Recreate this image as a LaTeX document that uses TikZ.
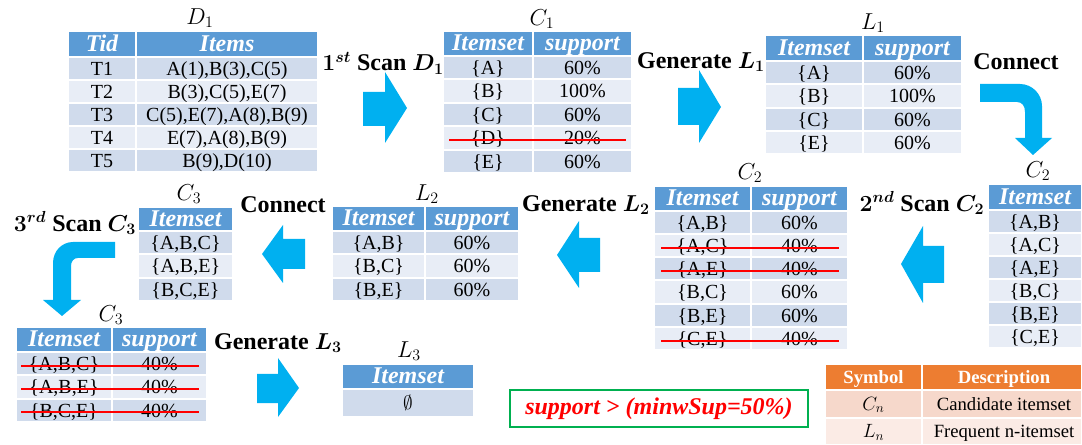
\documentclass[tikz,border=0pt]{standalone}
\usepackage{fontspec}
\setmainfont{Liberation Serif}
\usepackage{bm}

\definecolor{hdblue}{RGB}{91,155,213}
\definecolor{bandA}{RGB}{208,219,236}
\definecolor{bandB}{RGB}{232,237,246}
\definecolor{hdorange}{RGB}{237,125,49}
\definecolor{obandA}{RGB}{246,216,203}
\definecolor{obandB}{RGB}{251,235,229}
\definecolor{arrowcyan}{RGB}{0,176,240}
\definecolor{strikered}{RGB}{255,0,0}
\definecolor{boxgreen}{RGB}{0,176,80}

\tikzset{every picture/.style={line width=0.75pt}}
\tikzset{
	hd/.style={fill=hdblue, draw=white, line width=1pt},
	rowA/.style={fill=bandA, draw=white, line width=1pt},
	rowB/.style={fill=bandB, draw=white, line width=1pt},
	ohd/.style={fill=hdorange, draw=white, line width=1pt},
	orowA/.style={fill=obandA, draw=white, line width=1pt},
	orowB/.style={fill=obandB, draw=white, line width=1pt},
	hdtxt/.style={text=white, font=\fontsize{18}{18}\selectfont\bfseries\itshape, inner sep=0pt, text height=14pt, text depth=3pt},
	celltxt/.style={font=\fontsize{15}{15}\selectfont, inner sep=0pt, text height=13pt, text depth=3pt},
	ohdtxt/.style={text=white, font=\fontsize{14}{14}\selectfont\bfseries, inner sep=0pt, text height=12pt, text depth=3pt},
	otxt/.style={font=\fontsize{14}{14}\selectfont, inner sep=0pt, text height=12pt, text depth=3pt},
	steplbl/.style={font=\fontsize{18}{18}\selectfont\bfseries, inner sep=0pt},
	setlbl/.style={font=\fontsize{18}{18}\selectfont, inner sep=0pt},
	blockarrow/.style={fill=arrowcyan, draw=none},
	strike/.style={draw=strikered, line width=1.2pt},
	minbox/.style={draw=boxgreen, line width=1.8pt, fill=white, text=strikered, font=\fontsize{18}{18}\selectfont\bfseries\itshape},
}

\begin{document}
\begin{tikzpicture}[x=0.75pt,y=0.75pt,yscale=-1,xscale=1]
	\useasboundingbox (0,0) rectangle (1082,445);

	%Table D1
	\node[setlbl] (lblD1) at (200,18) {$D_1$};
	\draw[hd] (68,31) rectangle (136,57) (136,31) rectangle (318,57);
	\node[hdtxt] (d1h1) at (102,44) {Tid};
	\node[hdtxt] (d1h2) at (227,44) {Items};
	\draw[rowA] (68,57) rectangle (136,80) (136,57) rectangle (318,80);
	\node[celltxt] (d1a1) at (102,68.5) {T1};
	\node[celltxt] (d1a2) at (227,68.5) {A(1),B(3),C(5)};
	\draw[rowB] (68,80) rectangle (136,103) (136,80) rectangle (318,103);
	\node[celltxt] (d1b1) at (102,91.5) {T2};
	\node[celltxt] (d1b2) at (227,91.5) {B(3),C(5),E(7)};
	\draw[rowA] (68,103) rectangle (136,126) (136,103) rectangle (318,126);
	\node[celltxt] (d1c1) at (102,114.5) {T3};
	\node[celltxt] (d1c2) at (227,114.5) {C(5),E(7),A(8),B(9)};
	\draw[rowB] (68,126) rectangle (136,149) (136,126) rectangle (318,149);
	\node[celltxt] (d1d1) at (102,137.5) {T4};
	\node[celltxt] (d1d2) at (227,137.5) {E(7),A(8),B(9)};
	\draw[rowA] (68,149) rectangle (136,172) (136,149) rectangle (318,172);
	\node[celltxt] (d1e1) at (102,160.5) {T5};
	\node[celltxt] (d1e2) at (227,160.5) {B(9),D(10)};

	%Shape: Right Arrow
	\node[steplbl] (scan1) at (383,63) {$\bm{1^{st}}$ Scan $\bm{D_1}$};
	\draw[blockarrow] (363,92) -- (385,92) -- (385,72) -- (407,108) -- (385,143) -- (385,126) -- (363,126) -- cycle;

	%Table C1
	\node[setlbl] (lblC1) at (542,19) {$C_1$};
	\draw[hd] (443,31) rectangle (533,56) (533,31) rectangle (632,56);
	\node[hdtxt] (c1h1) at (488,43.5) {Itemset};
	\node[hdtxt] (c1h2) at (582.5,43.5) {support};
	\draw[rowA] (443,56) rectangle (533,79) (533,56) rectangle (632,79);
	\node[celltxt] (c1a1) at (488,67.5) {\{A\}};
	\node[celltxt] (c1a2) at (582.5,67.5) {60\%};
	\draw[rowB] (443,79) rectangle (533,103) (533,79) rectangle (632,103);
	\node[celltxt] (c1b1) at (488,91) {\{B\}};
	\node[celltxt] (c1b2) at (582.5,91) {100\%};
	\draw[rowA] (443,103) rectangle (533,126) (533,103) rectangle (632,126);
	\node[celltxt] (c1c1) at (488,114.5) {\{C\}};
	\node[celltxt] (c1c2) at (582.5,114.5) {60\%};
	\draw[rowB] (443,126) rectangle (533,150) (533,126) rectangle (632,150);
	\node[celltxt] (c1d1) at (488,138) {\{D\}};
	\node[celltxt] (c1d2) at (582.5,138) {20\%};
	\draw[rowA] (443,150) rectangle (533,173) (533,150) rectangle (632,173);
	\node[celltxt] (c1e1) at (488,161.5) {\{E\}};
	\node[celltxt] (c1e2) at (582.5,161.5) {60\%};
	\draw[strike] (449,140) -- (626,140);

	%Shape: Right Arrow
	\node[steplbl] (gen1) at (701,62) {Generate $\bm{L_1}$};
	\draw[blockarrow] (678,88) -- (699,88) -- (699,70) -- (721,107) -- (699,143) -- (699,125) -- (678,125) -- cycle;

	%Table L1
	\node[setlbl] (lblL1) at (873,23) {$L_1$};
	\draw[hd] (765,35) rectangle (863,61) (863,35) rectangle (962,61);
	\node[hdtxt] (l1h1) at (814,48) {Itemset};
	\node[hdtxt] (l1h2) at (912.5,48) {support};
	\draw[rowA] (765,61) rectangle (863,84) (863,61) rectangle (962,84);
	\node[celltxt] (l1a1) at (814,72.5) {\{A\}};
	\node[celltxt] (l1a2) at (912.5,72.5) {60\%};
	\draw[rowB] (765,84) rectangle (863,108) (863,84) rectangle (962,108);
	\node[celltxt] (l1b1) at (814,96) {\{B\}};
	\node[celltxt] (l1b2) at (912.5,96) {100\%};
	\draw[rowA] (765,108) rectangle (863,131) (863,108) rectangle (962,131);
	\node[celltxt] (l1c1) at (814,119.5) {\{C\}};
	\node[celltxt] (l1c2) at (912.5,119.5) {60\%};
	\draw[rowB] (765,131) rectangle (863,154) (863,131) rectangle (962,154);
	\node[celltxt] (l1d1) at (814,142.5) {\{E\}};
	\node[celltxt] (l1d2) at (912.5,142.5) {60\%};

	%Shape: Curved Arrow
	\node[steplbl] (conn1) at (1016,62) {Connect};
	\draw[blockarrow] (980,84) -- (1020,84) .. controls (1032,84) and (1042,94) .. (1042,106) -- (1042,138) -- (1052,138) -- (1033,155) -- (1015,138) -- (1025,138) -- (1025,112) .. controls (1025,106) and (1022,102) .. (1017,102) -- (980,102) -- cycle;

	%Table C2 (candidates)
	\node[setlbl] (lblC2r) at (1038,171) {$C_2$};
	\draw[hd] (988,184) rectangle (1082,210);
	\node[hdtxt] (c2rh) at (1035,197) {Itemset};
	\draw[rowA] (988,210) rectangle (1082,233);
	\node[celltxt] (c2ra) at (1035,221.5) {\{A,B\}};
	\draw[rowB] (988,233) rectangle (1082,256);
	\node[celltxt] (c2rb) at (1035,244.5) {\{A,C\}};
	\draw[rowA] (988,256) rectangle (1082,279);
	\node[celltxt] (c2rc) at (1035,267.5) {\{A,E\}};
	\draw[rowB] (988,279) rectangle (1082,302);
	\node[celltxt] (c2rd) at (1035,290.5) {\{B,C\}};
	\draw[rowA] (988,302) rectangle (1082,325);
	\node[celltxt] (c2re) at (1035,313.5) {\{B,E\}};
	\draw[rowB] (988,325) rectangle (1082,348);
	\node[celltxt] (c2rf) at (1035,336.5) {\{C,E\}};

	%Shape: Left Arrow
	\node[steplbl] (scan2) at (922,203) {$\bm{2^{nd}}$ Scan $\bm{C_2}$};
	\draw[blockarrow] (944,246) -- (923,246) -- (923,226) -- (901,264) -- (923,303) -- (923,283) -- (944,283) -- cycle;

	%Table C2 (counted)
	\node[setlbl] (lblC2m) at (750,173) {$C_2$};
	\draw[hd] (654,186) rectangle (751,211) (751,186) rectangle (848,211);
	\node[hdtxt] (c2mh1) at (702.5,198.5) {Itemset};
	\node[hdtxt] (c2mh2) at (799.5,198.5) {support};
	\draw[rowA] (654,211) rectangle (751,234) (751,211) rectangle (848,234);
	\node[celltxt] (c2ma1) at (702.5,222.5) {\{A,B\}};
	\node[celltxt] (c2ma2) at (799.5,222.5) {60\%};
	\draw[rowB] (654,234) rectangle (751,257) (751,234) rectangle (848,257);
	\node[celltxt] (c2mb1) at (702.5,245.5) {\{A,C\}};
	\node[celltxt] (c2mb2) at (799.5,245.5) {40\%};
	\draw[rowA] (654,257) rectangle (751,280) (751,257) rectangle (848,280);
	\node[celltxt] (c2mc1) at (702.5,268.5) {\{A,E\}};
	\node[celltxt] (c2mc2) at (799.5,268.5) {40\%};
	\draw[rowB] (654,280) rectangle (751,304) (751,280) rectangle (848,304);
	\node[celltxt] (c2md1) at (702.5,292) {\{B,C\}};
	\node[celltxt] (c2md2) at (799.5,292) {60\%};
	\draw[rowA] (654,304) rectangle (751,327) (751,304) rectangle (848,327);
	\node[celltxt] (c2me1) at (702.5,315.5) {\{B,E\}};
	\node[celltxt] (c2me2) at (799.5,315.5) {60\%};
	\draw[rowB] (654,327) rectangle (751,350) (751,327) rectangle (848,350);
	\node[celltxt] (c2mf1) at (702.5,338.5) {\{C,E\}};
	\node[celltxt] (c2mf2) at (799.5,338.5) {40\%};
	\draw[strike] (661,248) -- (839,248);
	\draw[strike] (661,271) -- (839,271);
	\draw[strike] (661,341) -- (839,341);

	%Shape: Left Arrow
	\node[steplbl] (gen2) at (586,205) {Generate $\bm{L_2}$};
	\draw[blockarrow] (600,238) -- (579,238) -- (579,221) -- (557,255) -- (579,288) -- (579,272) -- (600,272) -- cycle;

	%Table L2
	\node[setlbl] (lblL2) at (427,194) {$L_2$};
	\draw[hd] (332,206) rectangle (425,231) (425,206) rectangle (519,231);
	\node[hdtxt] (l2h1) at (378.5,218.5) {Itemset};
	\node[hdtxt] (l2h2) at (472,218.5) {support};
	\draw[rowA] (332,231) rectangle (425,254) (425,231) rectangle (519,254);
	\node[celltxt] (l2a1) at (378.5,242.5) {\{A,B\}};
	\node[celltxt] (l2a2) at (472,242.5) {60\%};
	\draw[rowB] (332,254) rectangle (425,278) (425,254) rectangle (519,278);
	\node[celltxt] (l2b1) at (378.5,266) {\{B,C\}};
	\node[celltxt] (l2b2) at (472,266) {60\%};
	\draw[rowA] (332,278) rectangle (425,301) (425,278) rectangle (519,301);
	\node[celltxt] (l2c1) at (378.5,289.5) {\{B,E\}};
	\node[celltxt] (l2c2) at (472,289.5) {60\%};

	%Shape: Left Arrow
	\node[steplbl] (conn2) at (283,205) {Connect};
	\draw[blockarrow] (305,239) -- (283,239) -- (283,225) -- (262,254) -- (283,283) -- (283,269) -- (305,269) -- cycle;

	%Table C3 (candidates)
	\node[setlbl] (lblC3t) at (189,194) {$C_3$};
	\draw[hd] (138,207) rectangle (233,231);
	\node[hdtxt] (c3th) at (185.5,219) {Itemset};
	\draw[rowA] (138,231) rectangle (233,254);
	\node[celltxt] (c3ta) at (185.5,242.5) {\{A,B,C\}};
	\draw[rowB] (138,254) rectangle (233,278);
	\node[celltxt] (c3tb) at (185.5,266) {\{A,B,E\}};
	\draw[rowA] (138,278) rectangle (233,301);
	\node[celltxt] (c3tc) at (185.5,289.5) {\{B,C,E\}};

	%Shape: Curved Arrow
	\node[steplbl] (scan3) at (75,223) {$\bm{3^{rd}}$ Scan $\bm{C_3}$};
	\draw[blockarrow] (115,242) -- (73,242) .. controls (62,242) and (53,251) .. (53,263) -- (53,300) -- (43,300) -- (62,316) -- (81,300) -- (71,300) -- (71,266) .. controls (71,261) and (74,258) .. (78,258) -- (115,258) -- cycle;

	%Table C3 (counted)
	\node[setlbl] (lblC3b) at (111,315) {$C_3$};
	\draw[hd] (16,327) rectangle (112,352) (112,327) rectangle (207,352);
	\node[hdtxt] (c3bh1) at (64,339.5) {Itemset};
	\node[hdtxt] (c3bh2) at (159.5,339.5) {support};
	\draw[rowA] (16,352) rectangle (112,375) (112,352) rectangle (207,375);
	\node[celltxt] (c3ba1) at (64,363.5) {\{A,B,C\}};
	\node[celltxt] (c3ba2) at (159.5,363.5) {40\%};
	\draw[rowB] (16,375) rectangle (112,399) (112,375) rectangle (207,399);
	\node[celltxt] (c3bb1) at (64,387) {\{A,B,E\}};
	\node[celltxt] (c3bb2) at (159.5,387) {40\%};
	\draw[rowA] (16,399) rectangle (112,422) (112,399) rectangle (207,422);
	\node[celltxt] (c3bc1) at (64,410.5) {\{B,C,E\}};
	\node[celltxt] (c3bc2) at (159.5,410.5) {40\%};
	\draw[strike] (21,366) -- (199,366);
	\draw[strike] (21,389) -- (199,389);
	\draw[strike] (21,412) -- (199,412);

	%Shape: Right Arrow
	\node[steplbl] (gen3) at (278,343) {Generate $\bm{L_3}$};
	\draw[blockarrow] (257,374) -- (278,374) -- (278,358) -- (299,388) -- (278,417) -- (278,403) -- (257,403) -- cycle;

	%Table L3
	\node[setlbl] (lblL3) at (409,351) {$L_3$};
	\draw[hd] (342,364) rectangle (474,389);
	\node[hdtxt] (l3h) at (408,376.5) {Itemset};
	\draw[rowA] (342,389) rectangle (474,417);
	\node[celltxt] (l3a) at (408,403) {$\emptyset$};

	%Text Node
	\node[minbox, minimum width=223.5pt, minimum height=27.75pt] (minsup) at (659,408.5) {support > (minwSup=50\%)};

	%Table Legend
	\draw[ohd] (825,364) rectangle (922,390) (922,364) rectangle (1082,390);
	\node[ohdtxt] (legh1) at (873.5,377) {Symbol};
	\node[ohdtxt] (legh2) at (1004,377) {Description};
	\draw[orowA] (825,390) rectangle (922,418) (922,390) rectangle (1082,418);
	\node[otxt] (lega1) at (873.5,404) {$C_n$};
	\node[otxt] (lega2) at (1004,404) {Candidate itemset};
	\draw[orowB] (825,418) rectangle (922,445) (922,418) rectangle (1082,445);
	\node[otxt] (legb1) at (873.5,431.5) {$L_n$};
	\node[otxt] (legb2) at (1004,431.5) {Frequent n-itemset};
\end{tikzpicture}
\end{document}
